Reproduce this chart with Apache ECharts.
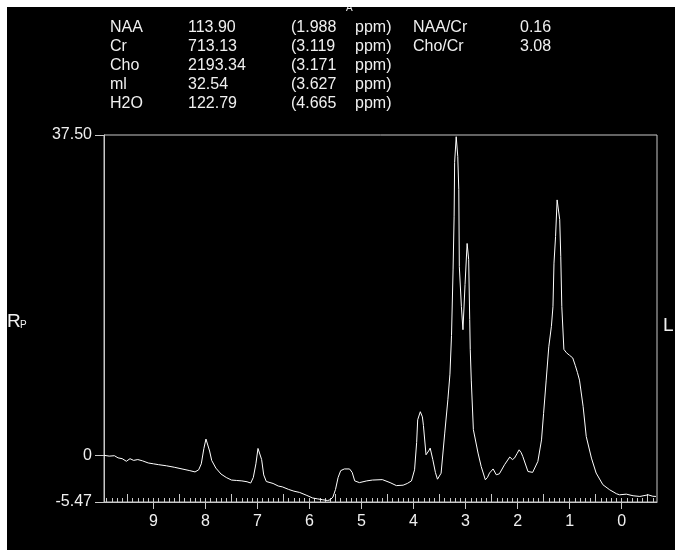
<!DOCTYPE html>
<html><head><meta charset="utf-8">
<script src="https://cdn.jsdelivr.net/npm/echarts@6/dist/echarts.min.js"></script>
<style>html,body{margin:0;padding:0;background:#fff}#c{width:675px;height:550px}</style>
</head><body><div id="c"></div><script>
// Spectrum data (chemical shift in ppm, signal intensity)
const ppm = [9.95,9.85,9.75,9.68,9.6,9.52,9.45,9.38,9.3,9.21,9.1,9.0,8.9,8.75,8.6,8.45,8.3,8.2,8.13,8.08,8.03,7.99,7.96,7.92,7.88,7.8,7.7,7.6,7.5,7.4,7.3,7.2,7.13,7.08,7.03,6.99,6.96,6.92,6.88,6.83,6.7,6.6,6.52,6.4,6.3,6.19,6.05,5.94,5.85,5.75,5.65,5.6,5.55,5.5,5.45,5.4,5.33,5.23,5.18,5.13,5.04,4.9,4.79,4.6,4.45,4.33,4.2,4.12,4.04,3.98,3.94,3.92,3.87,3.83,3.81,3.76,3.71,3.68,3.63,3.58,3.54,3.47,3.40,3.34,3.30,3.27,3.24,3.22,3.21,3.18,3.15,3.13,3.12,3.08,3.05,3.01,2.97,2.94,2.92,2.91,2.89,2.85,2.76,2.7,2.62,2.58,2.54,2.47,2.41,2.35,2.25,2.15,2.1,2.06,2.01,1.97,1.93,1.90,1.80,1.71,1.61,1.54,1.50,1.45,1.40,1.35,1.32,1.30,1.27,1.24,1.22,1.19,1.17,1.15,1.11,1.06,1.0,0.94,0.89,0.85,0.81,0.74,0.68,0.58,0.49,0.36,0.23,0.10,0.04,-0.09,-0.22,-0.35,-0.45,-0.51,-0.6,-0.66];
const intensity = [0.0,-0.1,-0.05,-0.3,-0.4,-0.7,-0.4,-0.6,-0.5,-0.65,-0.9,-1.0,-1.1,-1.23,-1.4,-1.6,-1.8,-1.95,-1.7,-1.0,0.8,1.9,1.9,0.5,-0.6,-1.5,-2.2,-2.6,-2.9,-2.95,-3.0,-3.1,-3.25,-2.6,-1.0,0.8,1.0,-0.5,-2.3,-3.07,-3.3,-3.6,-3.7,-4.0,-4.2,-4.35,-4.7,-5.0,-5.1,-5.2,-5.3,-5.2,-4.9,-4.0,-2.6,-1.8,-1.6,-1.6,-2.0,-3.0,-3.2,-3.0,-2.9,-2.85,-3.2,-3.55,-3.5,-3.3,-3.0,-1.7,1.5,4.16,5.1,4.5,3.5,0.06,0.5,0.84,-0.5,-2.0,-2.8,-2.1,2.6,6.5,9.5,14,21.7,28,34.3,37.3,35,31.1,22.1,17.4,14.7,20,24.8,22.9,15.9,12.4,8.8,3.0,0.26,-1.3,-2.87,-2.6,-2.08,-1.6,-2.28,-2.17,-1.1,-0.2,-0.5,-0.33,0.2,0.64,0.3,-0.14,-1.9,-2.0,-0.72,1.8,4.9,8.8,12.7,15.1,17.4,22.5,25.6,29.9,29.7,27.6,23.3,17.4,12.4,12.0,11.7,11.4,10.5,9.7,8.8,5.7,2.2,-0.33,-2.08,-3.45,-4.04,-4.5,-4.63,-4.55,-4.74,-4.82,-4.7,-4.63,-4.8,-4.82];

const xTickLabels = [0,1,2,3,4,5,6,7,8,9];
const yTickLabels = [-5.47, 0, 37.5];
const metabolites = ['NAA','Cr','Cho','ml','H2O'];
const areas = ['113.90','713.13','2193.34','32.54','122.79'];
const shifts = ['(1.988','(3.119','(3.171','(3.627','(4.665'];
const ratioNames = ['NAA/Cr','Cho/Cr'];
const ratioValues = ['0.16','3.08'];

const XMIN = -0.68, XMAX = 9.95;
const FONT = '"Liberation Sans", Arial, sans-serif';
const AX = '#c8c8c8';
const TXT = '#f0f0f0';

const minorTicks = []; for (let i = -6; i <= 99; i++) minorTicks.push(i / 10);
const halfTicks = []; for (let i = -1; i <= 19; i += 2) halfTicks.push(i / 2);

const data = ppm.map((p, i) => [p, intensity[i]]);

const graphics = [];
const rowY = i => 29 + i * 19;
metabolites.forEach((m, i) => {
  const y = rowY(i);
  [[110, m], [188, areas[i]], [291, shifts[i]], [355, 'ppm)']].forEach(([x, t]) => {
    graphics.push({type: 'text', left: x, top: y - 9, style: {text: t, fill: TXT, font: '16px ' + FONT}});
  });
});
ratioNames.forEach((r, i) => {
  const y = rowY(i);
  graphics.push({type: 'text', left: 413, top: y - 9, style: {text: r, fill: TXT, font: '16px ' + FONT}});
  graphics.push({type: 'text', left: 520, top: y - 9, style: {text: ratioValues[i], fill: TXT, font: '16px ' + FONT}});
});
// orientation labels
graphics.push({type: 'text', left: 331, top: -6, style: {text: 'P', fill: TXT, font: '16px ' + FONT}});
graphics.push({type: 'text', left: 346, top: 3, style: {text: 'A', fill: TXT, font: '10px ' + FONT}});
graphics.push({type: 'text', left: 7, top: 312, style: {text: 'R', fill: TXT, font: '19px ' + FONT}});
graphics.push({type: 'text', left: 20, top: 320, style: {text: 'P', fill: TXT, font: '10px ' + FONT}});
graphics.push({type: 'text', left: 663, top: 316, style: {text: 'L', fill: TXT, font: '19px ' + FONT}});
// white page margins
graphics.push({type: 'rect', shape: {x: 0, y: 0, width: 675, height: 7}, style: {fill: '#fff'}, z: 100});
graphics.push({type: 'rect', shape: {x: 0, y: 0, width: 7, height: 550}, style: {fill: '#fff'}, z: 100});

const baseX = {type: 'value', min: XMIN, max: XMAX, inverse: true, position: 'bottom', splitLine: {show: false}, gridIndex: 0};

const chart = echarts.init(document.getElementById('c'), null, {renderer: 'canvas'});
chart.setOption({
  animation: false,
  backgroundColor: '#000',
  grid: {left: 104, right: 18, top: 135, bottom: 48, show: true, borderColor: AX, borderWidth: 1, containLabel: false},
  xAxis: [
    Object.assign({}, baseX, {
      axisLine: {show: true, onZero: false, lineStyle: {color: AX, width: 1}},
      axisTick: {show: true, inside: false, length: 7, customValues: xTickLabels, lineStyle: {color: AX}},
      axisLabel: {show: true, customValues: xTickLabels, color: TXT, fontSize: 16, fontFamily: FONT, margin: 12}
    }),
    Object.assign({}, baseX, {
      axisLine: {show: false, onZero: false},
      axisTick: {show: true, inside: true, length: 4, customValues: minorTicks, lineStyle: {color: AX}},
      axisLabel: {show: false}
    }),
    Object.assign({}, baseX, {
      axisLine: {show: false, onZero: false},
      axisTick: {show: true, inside: true, length: 8, customValues: halfTicks, lineStyle: {color: AX}},
      axisLabel: {show: false}
    })
  ],
  yAxis: {
    type: 'value', min: -5.47, max: 37.5, splitLine: {show: false},
    axisLine: {show: true, onZero: false, lineStyle: {color: AX, width: 1}},
    axisTick: {show: true, inside: false, length: 9, customValues: yTickLabels, lineStyle: {color: AX}},
    axisLabel: {show: true, customValues: yTickLabels, color: TXT, fontSize: 16, fontFamily: FONT, margin: 12,
      formatter: v => (v === 37.5 ? '37.50' : String(v))}
  },
  series: [{
    type: 'line', xAxisIndex: 0, yAxisIndex: 0, data: data, showSymbol: false, symbol: 'none',
    lineStyle: {color: '#ffffff', width: 1}, smooth: false
  }],
  graphic: graphics
});
</script></body></html>
